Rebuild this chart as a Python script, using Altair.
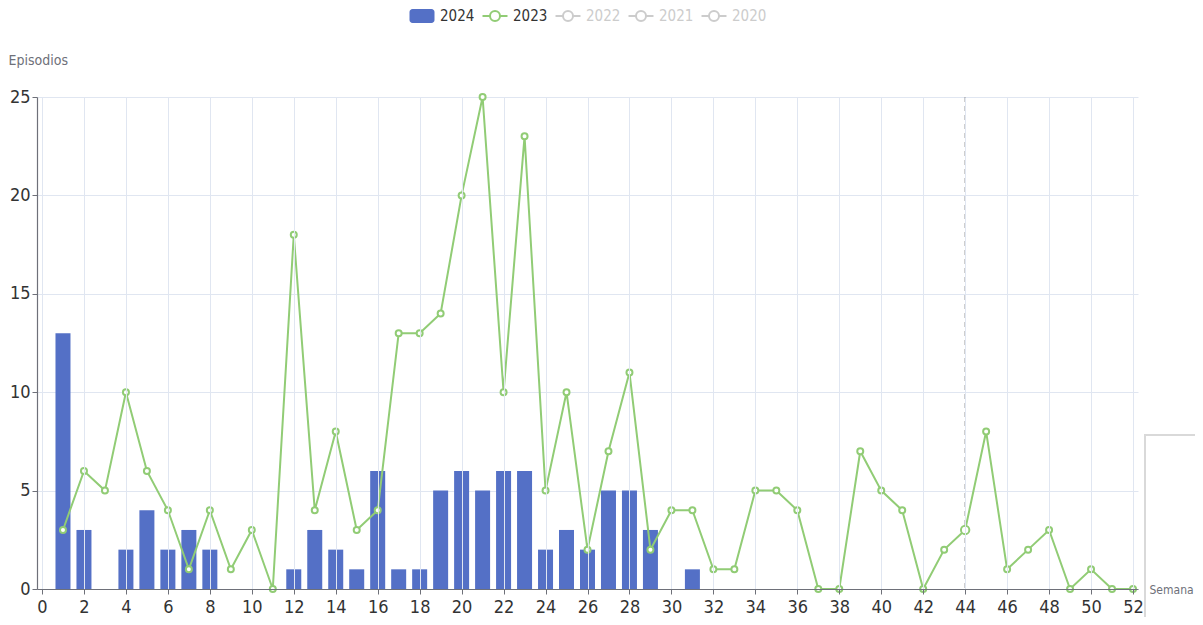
import altair as alt
import pandas as pd

# ---- data ----
weeks_2024 = list(range(1, 32))
cases_2024 = [13, 3, 0, 2, 4, 2, 3, 2, 0, 0, 0, 1, 3, 2, 1, 6, 1, 1, 5, 6, 5, 6, 6, 2, 3, 2, 5, 5, 3, 0, 1]
weeks_2023 = list(range(1, 53))
cases_2023 = [3, 6, 5, 10, 6, 4, 1, 4, 1, 3, 0, 18, 4, 8, 3, 4, 13, 13, 14, 20,
              25, 10, 23, 5, 10, 2, 7, 11, 2, 4, 4, 1, 1, 5, 5, 4, 0, 0, 7, 5,
              4, 0, 2, 3, 8, 1, 2, 3, 0, 1, 0, 0]
x_ticks = list(range(0, 53, 2))
y_ticks = [0, 5, 10, 15, 20, 25]
legend_names = ["2024", "2023", "2022", "2021", "2020"]
legend_active = [True, True, False, False, False]
hover_week = 44
x_title = "Semana"
y_title = "Episodios"

# ---- style ----
W, H = 1101, 492
FONT = "DejaVu Sans Condensed, Liberation Sans Narrow, Liberation Sans, sans-serif"
BAR = "#5470c6"
LINE = "#91cc75"
OFF = "#cccccc"

df24 = pd.DataFrame({"week": weeks_2024, "value": cases_2024})
df23 = pd.DataFrame({"week": weeks_2023, "value": cases_2023})

x_enc = alt.X("week:Q",
              scale=alt.Scale(domain=[0, 52], nice=False, zero=False),
              axis=alt.Axis(values=x_ticks, title=x_title, format="d",
                            titleX=W + 11, titleY=0, titleAlign="left",
                            titleBaseline="middle", titleAnchor=None,
                            titleFontSize=12, labelFlush=False,
                            labelPadding=4, zindex=1))
y_enc = alt.Y("value:Q",
              scale=alt.Scale(domain=[0, 25], nice=False),
              axis=alt.Axis(values=y_ticks, title=y_title, titleAngle=0,
                            titleX=-29, titleY=-37, titleAlign="left",
                            titleBaseline="middle", titleFontSize=14,
                            labelFlush=False, labelPadding=2))

box = alt.Chart(pd.DataFrame({"k": [0]})).mark_rect(
    fill="white", stroke="#d9d9d9", strokeWidth=2
).encode(x=alt.value(W + 7), x2=alt.value(W + 90), y=alt.value(338), y2=alt.value(540))

bars = alt.Chart(df24).mark_bar(size=15, color=BAR).encode(x=x_enc, y=y_enc)

rule = alt.Chart(pd.DataFrame({"week": [hover_week]})).mark_rule(
    color="#777777", strokeDash=[5, 4], strokeWidth=1
).encode(x=x_enc, y=alt.value(0), y2=alt.value(H))

line = alt.Chart(df23).mark_line(color=LINE, strokeWidth=2).encode(x=x_enc, y=y_enc)
pts = alt.Chart(df23).mark_point(
    shape="circle", filled=False, fill="white", fillOpacity=1,
    stroke=LINE, strokeWidth=2, size=36, opacity=1
).encode(x=x_enc, y=y_enc)
hover_pt = alt.Chart(df23[df23["week"] == hover_week]).mark_point(
    shape="circle", filled=False, fill="white", fillOpacity=1,
    stroke=LINE, strokeWidth=2, size=70, opacity=1
).encode(x=x_enc, y=y_enc)

layers = [box, bars, rule, line, pts, hover_pt]

# ---- legend ----
LX0, LSTEP, LY = 385, 73, -81
for i, (name, active) in enumerate(zip(legend_names, legend_active)):
    cx = LX0 + LSTEP * i
    col = (BAR if i == 0 else LINE) if active else OFF
    d = pd.DataFrame({"label": [name]})
    if i == 0:
        layers.append(alt.Chart(d).mark_rect(fill=col, cornerRadius=3).encode(
            x=alt.value(cx - 12.5), x2=alt.value(cx + 12.5),
            y=alt.value(LY - 7), y2=alt.value(LY + 7)))
    else:
        layers.append(alt.Chart(d).mark_rule(color=col, strokeWidth=2).encode(
            x=alt.value(cx - 12.5), x2=alt.value(cx + 12.5), y=alt.value(LY)))
        layers.append(alt.Chart(d).mark_point(
            shape="circle", filled=False, fill="white", fillOpacity=1,
            stroke=col, strokeWidth=2, size=100, opacity=1).encode(
            x=alt.value(cx), y=alt.value(LY)))
    layers.append(alt.Chart(d).mark_text(
        align="left", baseline="middle", font=FONT, fontSize=15,
        color="#333333" if active else OFF).encode(
        x=alt.value(cx + 18), y=alt.value(LY), text="label:N"))

chart = alt.layer(*layers).properties(
    width=W, height=H,
    autosize=alt.AutoSizeParams(type="none"),
    padding={"left": 29, "top": 89, "right": 57, "bottom": 28},
).configure_view(stroke=None).configure_axis(
    domainColor="#6e7079", tickColor="#6e7079", gridColor="#e0e6f1",
    labelColor="#333333", labelFont=FONT, labelFontSize=18,
    titleFont=FONT, titleColor="#6e7079", titleFontWeight="normal",
    tickSize=5, domainWidth=1.2
)

chart.save("out.html", embed_options={"renderer": "svg", "actions": False})
